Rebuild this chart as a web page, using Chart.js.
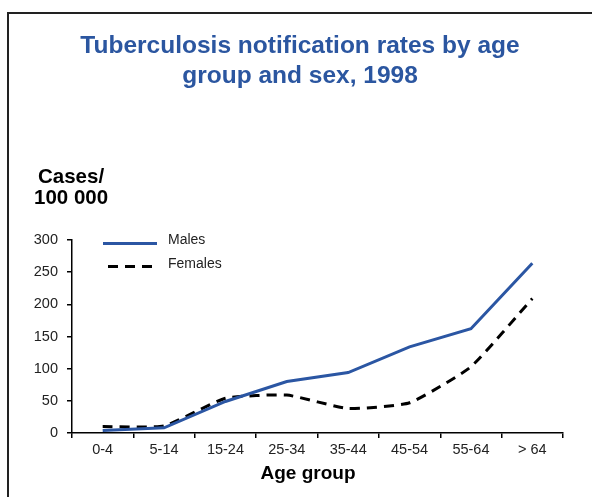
<!DOCTYPE html>
<html>
<head>
<meta charset="utf-8">
<script src="https://cdn.jsdelivr.net/npm/chart.js@4"></script>
<style>
  html, body { margin: 0; padding: 0; background: #fff; overflow: hidden; }
  #frame { position: absolute; left: 7px; top: 12px; width: 700px; height: 600px; border: 2px solid #222; }
  #wrap { position: absolute; left: 0; top: 0; width: 592px; height: 497px; }
</style>
</head>
<body>
<div id="frame"></div>
<div id="wrap"><canvas id="tbChart" width="592" height="497"></canvas></div>
<script>
const ageGroups = ['0-4', '5-14', '15-24', '25-34', '35-44', '45-54', '55-64', '> 64'];
const males = [4, 8, 49, 80, 94, 134, 162, 264];
const females = [10, 11, 54, 59, 38, 47, 103, 209];
const yTicks = [0, 50, 100, 150, 200, 250, 300];

const titleLines = ['Tuberculosis notification rates by age', 'group and sex, 1998'];
const yLabelLines = ['Cases/', '100 000'];
const xLabel = 'Age group';

const FONT = '"Liberation Sans", Arial, Helvetica, sans-serif';
const blue = '#2b56a3';

// texts and legend drawn by hand, the layout is fixed
const decorPlugin = {
    id: 'decor',
    afterDraw(chart) {
        const c = chart.ctx;
        c.save();
        c.textBaseline = 'alphabetic';
        c.fillStyle = '#2b56a0';
        c.font = 'bold 24.5px ' + FONT;
        c.textAlign = 'center';
        c.fillText(titleLines[0], 300, 53);
        c.fillText(titleLines[1], 300, 83);

        c.fillStyle = '#000';
        c.font = 'bold 20.5px ' + FONT;
        c.textAlign = 'left';
        c.fillText(yLabelLines[0], 38, 183);
        c.fillText(yLabelLines[1], 34, 204);

        c.font = 'bold 19px ' + FONT;
        c.textAlign = 'center';
        c.fillText(xLabel, 308, 479);

        // legend
        const ds = chart.data.datasets;
        const rows = [243.5, 266.5];
        ds.forEach((d, i) => {
            c.strokeStyle = d.borderColor;
            c.lineWidth = d.borderWidth;
            c.setLineDash(d.borderDash || []);
            c.beginPath();
            if (d.borderDash) {
                c.moveTo(108, rows[i]);
                c.lineTo(152, rows[i]);
            } else {
                c.moveTo(103, rows[i]);
                c.lineTo(157, rows[i]);
            }
            c.stroke();
            c.setLineDash([]);
            c.fillStyle = '#222';
            c.font = '14px ' + FONT;
            c.textAlign = 'left';
            c.fillText(d.label, 168, rows[i] + (i === 0 ? 0.5 : 1.5));
        });
        c.restore();
    }
};

new Chart(document.getElementById('tbChart'), {
    type: 'line',
    data: {
        labels: ageGroups,
        datasets: [
            {
                label: 'Males',
                data: males,
                borderColor: blue,
                borderWidth: 3,
                pointRadius: 0,
                tension: 0
            },
            {
                label: 'Females',
                data: females,
                borderColor: '#000',
                borderWidth: 3,
                borderDash: [10, 7],
                pointRadius: 0,
                tension: 0.15
            }
        ]
    },
    options: {
        responsive: false,
        animation: false,
        layout: { padding: { top: 240, right: 29, left: 0, bottom: 0 } },
        plugins: {
            legend: { display: false },
            title: { display: false },
            tooltip: { enabled: false }
        },
        scales: {
            x: {
                offset: true,
                grid: { display: true, offset: true, drawOnChartArea: false, drawTicks: true, tickLength: 5, color: '#000', lineWidth: 1.5 },
                border: { display: true, color: '#000', width: 1.5 },
                ticks: { color: '#222', font: { size: 14.5, family: FONT }, padding: 3, maxRotation: 0 },
                afterFit: s => { s.height = 497 - 433; }
            },
            y: {
                min: 0,
                max: 300,
                afterBuildTicks: s => { s.ticks = yTicks.map(v => ({ value: v })); },
                grid: { display: true, drawOnChartArea: false, drawTicks: true, tickLength: 5, color: '#000', lineWidth: 1.5 },
                border: { display: true, color: '#000', width: 1.5 },
                ticks: { color: '#222', font: { size: 14.5, family: FONT }, padding: 9 },
                afterFit: s => { s.width = 72; }
            }
        }
    },
    plugins: [decorPlugin]
});
</script>
</body>
</html>
